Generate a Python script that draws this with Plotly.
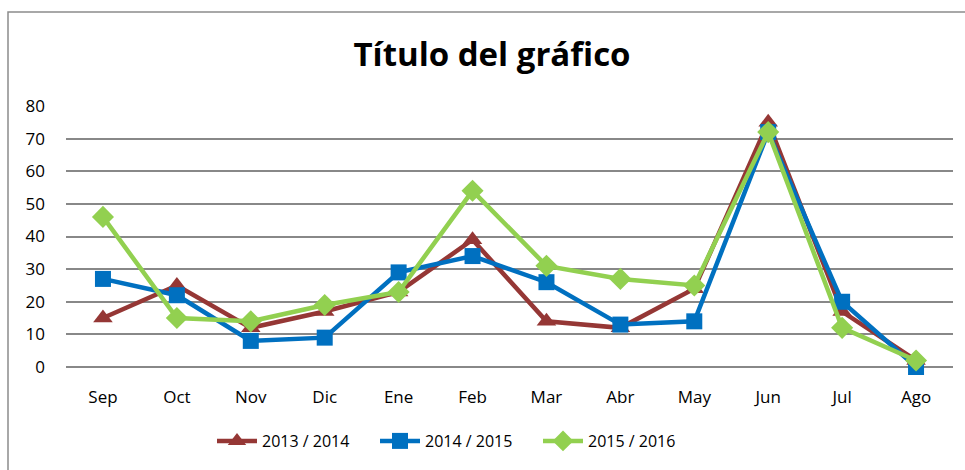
import plotly.graph_objects as go

months = ["Sep", "Oct", "Nov", "Dic", "Ene", "Feb", "Mar", "Abr", "May", "Jun", "Jul", "Ago"]
s2013 = [15, 25, 12, 17, 23, 39, 14, 12, 24, 75, 17, 2]
s2014 = [27, 22, 8, 9, 29, 34, 26, 13, 14, 72, 20, 0]
s2015 = [46, 15, 14, 19, 23, 54, 31, 27, 25, 72, 12, 2]
names = ["2013 / 2014", "2014 / 2015", "2015 / 2016"]
y_ticks = [0, 10, 20, 30, 40, 50, 60, 70, 80]

FONT = "Open Sans"
fig = go.Figure()
series = [
    (s2013, names[0], "#953735", "triangle-up", 17),
    (s2014, names[1], "#0070C0", "square", 16),
    (s2015, names[2], "#92D050", "diamond", 17),
]
for vals, nm, col, sym, sz in series:
    fig.add_trace(go.Scatter(
        x=months, y=vals, name=nm, mode="lines+markers",
        line=dict(color=col, width=4.5),
        marker=dict(symbol=sym, size=sz, color=col),
        cliponaxis=False,
    ))

W, H = 965, 470
L, R, T, B = 66, 12, 106, 103
pw, ph = W - L - R, H - T - B

def px_x(p):
    return (p - L) / pw

def px_y(p):
    return (H - B - p) / ph

fig.update_layout(
    width=W, height=H,
    margin=dict(l=L, r=R, t=T, b=B),
    paper_bgcolor="white", plot_bgcolor="white",
    font=dict(family=FONT, size=17, color="#000000"),
    title=dict(text="<b>Título del gráfico</b>", x=492 / W, xanchor="center",
               y=1 - 54 / H, yanchor="middle", yref="container",
               xref="container", font=dict(size=33, family=FONT, color="#000")),
    showlegend=True,
    legend=dict(orientation="h", x=px_x(212), xanchor="left",
                y=px_y(441), yanchor="middle", font=dict(size=16, family=FONT),
                itemwidth=40, tracegroupgap=0, entrywidth=108, entrywidthmode="pixels"),
    shapes=[dict(type="rect", xref="paper", yref="paper",
                 x0=px_x(8), x1=px_x(990), y0=px_y(500), y1=px_y(12),
                 line=dict(color="#8c8c8c", width=1.5), fillcolor="rgba(0,0,0,0)", layer="below")],
)
fig.update_xaxes(
    type="category", range=[-0.5, 11.5], showgrid=False, showline=False,
    ticks="", ticklabelstandoff=18, tickfont=dict(size=17, family=FONT),
)
fig.update_yaxes(
    range=[0, 80], tickvals=y_ticks, showgrid=True, gridcolor="#888888", gridwidth=1.5,
    zeroline=True, zerolinecolor="#888888", zerolinewidth=2, showline=False,
    ticks="", ticklabelstandoff=20, tickfont=dict(size=17, family=FONT),
)

fig.write_html("out.html", config={"displayModeBar": False},
               post_script="document.body.style.margin='0';")
